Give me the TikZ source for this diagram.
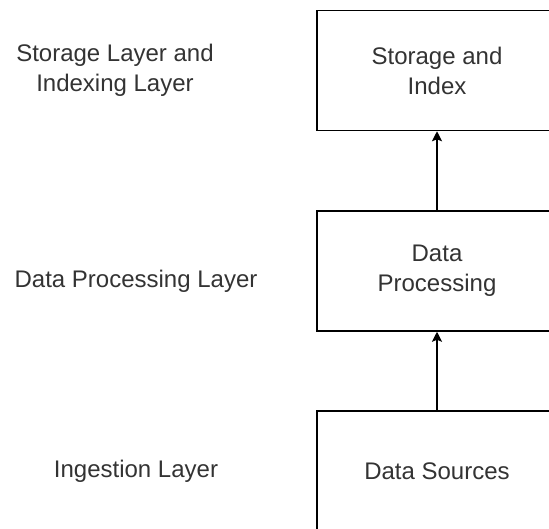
\documentclass[tikz,border=0pt]{standalone}
\usepackage{fontspec}
\setmainfont{Liberation Sans}
\usetikzlibrary{arrows.meta}
\definecolor{txt}{HTML}{333333}
\tikzset{
  layerbox/.style={draw=black, line width=1.5pt, fill=white, minimum width=240pt, minimum height=120pt, inner sep=0pt, align=center, text=txt, font=\fontsize{24}{30}\selectfont},
  layerlabel/.style={inner sep=0pt, align=center, text=txt, font=\fontsize{24}{30}\selectfont},
  flow/.style={draw=black, line width=1.5pt, -{Stealth[length=10pt,width=10pt,inset=2pt]}}
}
\begin{document}
\begin{tikzpicture}[x=1pt,y=-1pt]
\useasboundingbox (0,0) rectangle (549,528);
\clip (0,0) rectangle (549,528);
\node[layerbox] (store) at (437,70.5) {Storage and\\Index};
\node[layerbox] (proc) at (437,271) {Data\\Processing};
\node[layerbox] (src) at (437,471) {Data Sources};
\draw[flow] (proc.north) -- (store.south);
\draw[flow] (src.north) -- (proc.south);
\node[layerlabel] (lstore) at (115,70.5) {Storage Layer and\\Indexing Layer};
\node[layerlabel, anchor=base] (lproc) at (136,287) {Data Processing Layer};
\node[layerlabel, anchor=base] (lsrc) at (136,477) {Ingestion Layer};
\end{tikzpicture}
\end{document}
